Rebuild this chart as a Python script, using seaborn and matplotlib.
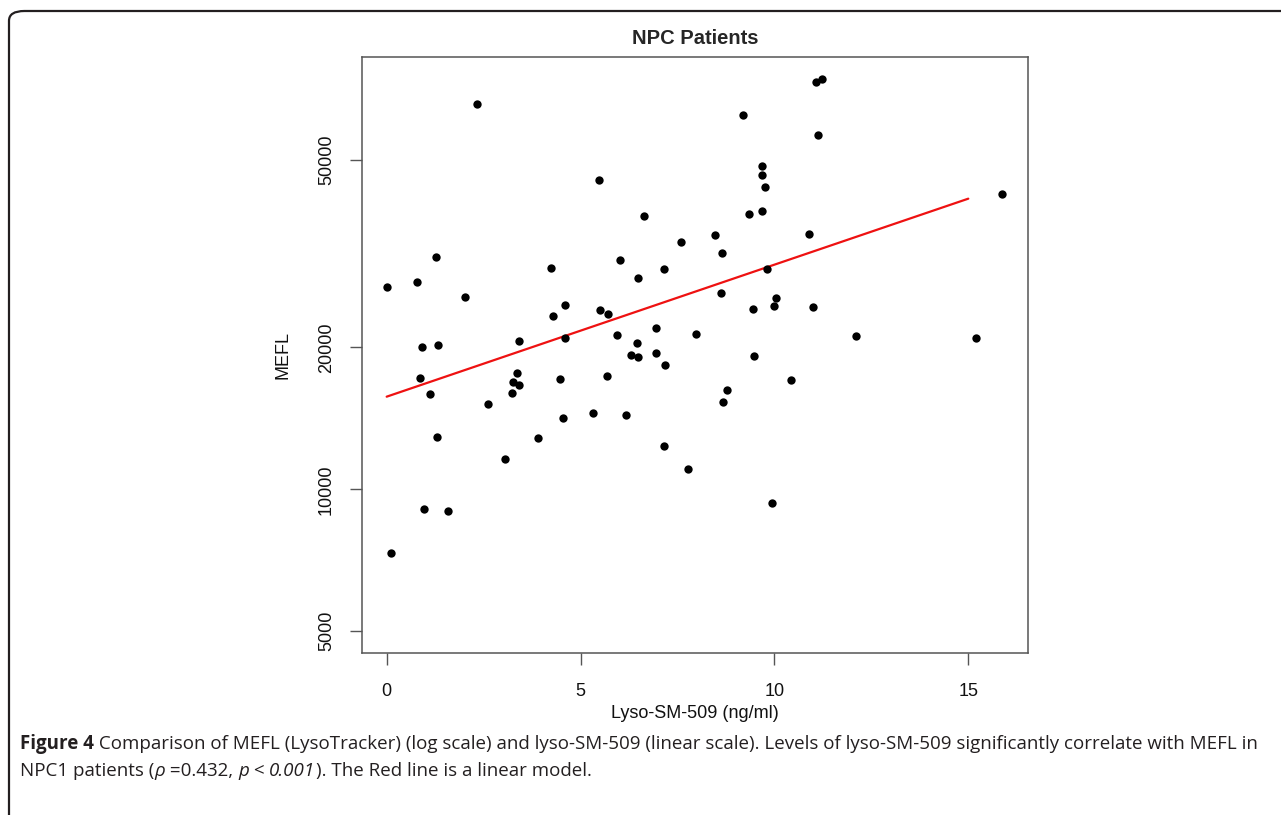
import matplotlib
matplotlib.use("Agg")
import matplotlib.pyplot as plt
import seaborn as sns
import numpy as np
import pandas as pd
from matplotlib.patches import FancyBboxPatch

# --- Data ---
lyso_sm509 = [2.34, 5.47, 6.64, 7.58, 1.26, 4.25, 6.03, 7.15, 6.49, 0.02,
              0.79, 2.02, 4.59, 4.30, 5.50, 5.72, 5.94, 6.45, 6.95, 7.98,
              3.42, 0.91, 1.33, 11.08, 11.23, 9.19, 11.13, 9.67, 9.69, 9.77,
              15.88, 9.67, 9.34, 8.48, 10.88, 8.64, 9.81, 8.63, 10.04, 9.98,
              9.46, 11.00, 12.10, 15.20, 4.61, 6.29, 6.47, 6.95, 7.18, 3.37,
              3.26, 3.40, 3.24, 0.87, 1.12, 4.46, 5.67, 2.61, 4.55, 5.33,
              6.18, 1.30, 3.91, 7.16, 3.06, 7.78, 0.96, 1.59, 0.10, 9.47,
              10.44, 8.78, 8.67, 9.94]
mefl = [65700, 45300, 37900, 33500, 31150, 29480, 30600, 29340, 28110, 26830,
        27490, 25580, 24640, 23320, 24010, 23510, 21220, 20430, 21960, 21360,
        20640, 20010, 20270, 73200, 74200, 62330, 56440, 48590, 46360, 43850,
        42250, 38940, 38430, 34680, 34850, 31670, 29340, 26090, 25420, 24450,
        24090, 24360, 21140, 20940, 20940, 19240, 19050, 19430, 18350, 17630,
        16870, 16620, 15980, 17250, 15910, 17120, 17420, 15190, 14140, 14540,
        14350, 12890, 12830, 12360, 11610, 11040, 9095, 8980, 7314, 19150,
        17030, 16240, 15320, 9367]

# linear model on log10(MEFL)
fit_intercept = 4.1964
fit_slope = 0.0280
fit_x = [0, 15]

x_ticks = [0, 5, 10, 15]
y_ticks = [5000, 10000, 20000, 50000]

df = pd.DataFrame({"x": lyso_sm509, "y": mefl})
fit_df = pd.DataFrame({"x": fit_x})
fit_df["y"] = 10 ** (fit_intercept + fit_slope * fit_df["x"])

# --- Plot setup ---
sns.set_style("ticks")
plt.rcParams["font.family"] = ["Liberation Sans", "DejaVu Sans"]

fig = plt.figure(figsize=(12.81, 8.15), dpi=100)
ax = fig.add_axes([0.2826, 0.1988, 0.5199, 0.7313])

sns.scatterplot(data=df, x="x", y="y", ax=ax, color="black", s=36,
                linewidth=0, zorder=3)
sns.lineplot(data=fit_df, x="x", y="y", ax=ax, color="#ee1111",
             linewidth=1.6, zorder=2)

ax.set_yscale("log")
ax.set_xlim(-0.636, 16.54)
ax.set_ylim(4495, 82600)
ax.set_xticks(x_ticks)
ax.set_xticklabels([str(t) for t in x_ticks])
ax.set_yticks(y_ticks)
ax.set_yticklabels([str(t) for t in y_ticks], rotation=90, va="center")
ax.yaxis.set_minor_locator(matplotlib.ticker.NullLocator())

for sp in ax.spines.values():
    sp.set_visible(True)
    sp.set_color("#555555")
    sp.set_linewidth(1.1)
ax.tick_params(axis="both", length=8.5, width=1.0, color="#555555",
               labelsize=13, pad=11, labelcolor="#111111")
ax.tick_params(axis="x", pad=13)

ax.set_xlabel("Lyso-SM-509 (ng/ml)", fontsize=13, labelpad=3.5, color="#111111")
ax.set_ylabel("MEFL", fontsize=13, labelpad=19, color="#111111")
ax.set_title("NPC Patients", fontsize=14.5, fontweight="bold", pad=9)

# --- Rounded frame around the figure (cropped at right / bottom) ---
frame = FancyBboxPatch((9 / 1281, -0.2), 1.2, (815 - 11) / 815 + 0.2,
                       boxstyle="round,pad=0,rounding_size=0.012",
                       transform=fig.transFigure, fill=False,
                       edgecolor="#231f20", linewidth=1.6, clip_on=False)
fig.patches.append(frame)

# --- Caption with mixed styles ---
renderer = fig.canvas.get_renderer()
cap_font = ["Open Sans", "DejaVu Sans"]
cap_size = 13.5
cap_color = "#231f20"


def run_width(s, **kw):
    t1 = fig.text(0, 0, s + "|", fontsize=cap_size, family=cap_font, **kw)
    t2 = fig.text(0, 0, "|", fontsize=cap_size, family=cap_font, **kw)
    w = t1.get_window_extent(renderer).width - t2.get_window_extent(renderer).width
    t1.remove()
    t2.remove()
    return w


def draw_runs(x_px, y_px, runs):
    for s, kw in runs:
        fig.text(x_px / 1281, 1 - y_px / 815, s, fontsize=cap_size,
                 family=cap_font, color=cap_color, va="baseline", **kw)
        x_px += run_width(s, **kw)


line1 = [("Figure 4", {"fontweight": "bold"}),
         (" Comparison of MEFL (LysoTracker) (log scale) and lyso-SM-509 (linear scale). "
          "Levels of lyso-SM-509 significantly correlate with MEFL in", {})]
line2 = [("NPC1 patients (", {}), ("\u03c1", {"fontstyle": "italic"}),
         (" =0.432, ", {}), ("p", {"fontstyle": "italic"}), (" < ", {}),
         ("0.001", {"fontstyle": "italic"}),
         ("). The Red line is a linear model.", {})]

draw_runs(20, 749, line1)
draw_runs(20, 776, line2)

fig.savefig("out.png", dpi=100)
